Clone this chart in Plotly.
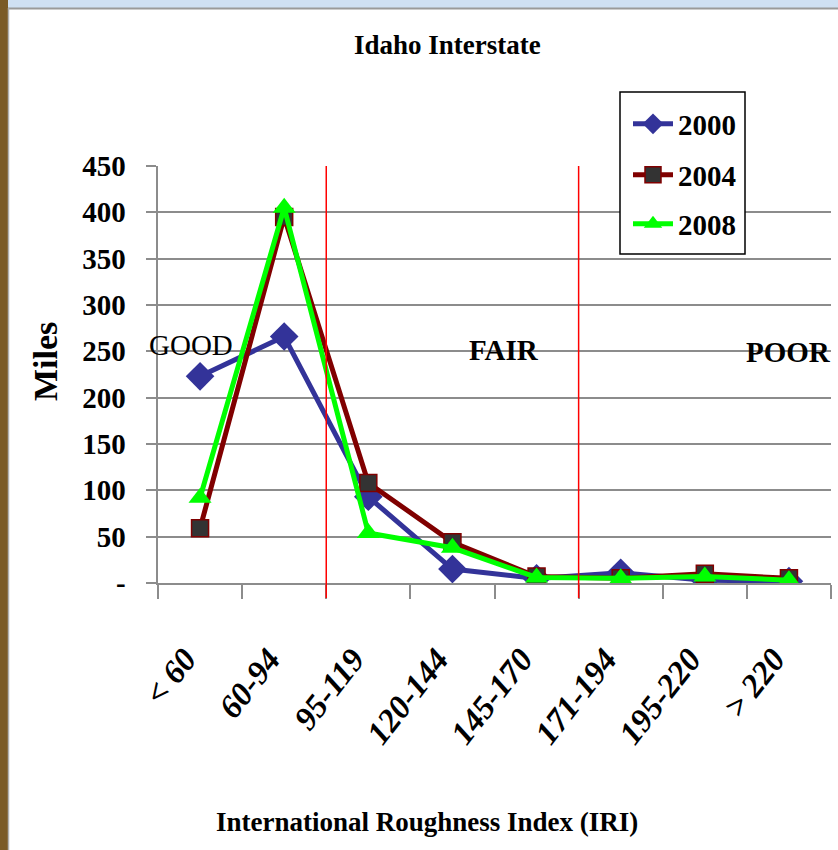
import plotly.graph_objects as go

categories = ["< 60", "60-94", "95-119", "120-144", "145-170", "171-194", "195-220", "> 220"]
miles_2000 = [223, 266, 93, 15, 5, 11, 3, 2]
miles_2004 = [59, 395, 108, 44, 7, 5, 10, 5]
miles_2008 = [92, 405, 54, 38, 6, 5, 7, 3]
y_tickvals = [0, 50, 100, 150, 200, 250, 300, 350, 400, 450]
y_ticktext = ["-", "50", "100", "150", "200", "250", "300", "350", "400", "450"]
zone_labels = ["GOOD", "FAIR", "POOR"]
zone_bounds = [1.5, 4.5]

W, H = 838, 850
L, R, T, B = 158, 831, 166, 583  # plot area in pixels

def px(xp):
    return (xp - L) / (R - L)

def py(yp):
    return (B - yp) / (B - T)

FONT = "Liberation Serif, Times New Roman, serif"
GRID = "#8c8c8c"
NB = "\u00a0"

fig = go.Figure()

fig.add_trace(go.Scatter(
    x=categories, y=miles_2000, name="2000", mode="lines+markers", legend="legend",
    line=dict(color="#333399", width=5),
    marker=dict(symbol="diamond", size=22, color="#333399"),
))
fig.add_trace(go.Scatter(
    x=categories, y=miles_2004, name="2004", mode="lines+markers", legend="legend2",
    line=dict(color="#800000", width=5),
    marker=dict(symbol="square", size=17, color="#333333", line=dict(color="#800000", width=1.5)),
))
fig.add_trace(go.Scatter(
    x=categories, y=miles_2008, name="2008", mode="lines+markers", legend="legend3",
    line=dict(color="#00ff00", width=5),
    marker=dict(symbol="triangle-up", size=20, color="#00ff00"),
))

shapes = []
for b in zone_bounds:
    shapes.append(dict(type="line", xref="x", yref="paper", x0=b, x1=b,
                       y0=py(598), y1=1, line=dict(color="red", width=1.5), layer="above"))
# legend frame
shapes.append(dict(type="rect", xref="paper", yref="paper", x0=px(620), x1=px(745), y0=py(92), y1=py(254),
                   fillcolor="white", line=dict(color="black", width=1.5), layer="above"))
# slide frame artifacts
shapes.append(dict(type="rect", xref="paper", yref="paper", x0=px(0), x1=px(W), y0=py(0), y1=py(8),
                   fillcolor="#cfe0f3", line=dict(width=0), layer="below"))
shapes.append(dict(type="line", xref="paper", yref="paper", x0=px(8), x1=px(W), y0=py(8.5), y1=py(8.5),
                   line=dict(color="#9a9a9a", width=2)))
shapes.append(dict(type="rect", xref="paper", yref="paper", x0=px(0), x1=px(8), y0=py(0), y1=py(H),
                   fillcolor="#7a5a26", line=dict(width=0), layer="below"))
shapes.append(dict(type="line", xref="paper", yref="paper", x0=px(8.5), x1=px(8.5), y0=py(8), y1=py(H),
                   line=dict(color="#b0b0b0", width=1.5)))

annotations = [
    dict(text="<b>Idaho Interstate</b>", xref="paper", yref="paper", x=px(447), y=py(45),
         showarrow=False, font=dict(family=FONT, size=27, color="black"), xanchor="center", yanchor="middle"),
    dict(text="<b>Miles</b>", xref="paper", yref="paper", x=px(45), y=py(362), textangle=-90,
         showarrow=False, font=dict(family=FONT, size=34, color="black"), xanchor="center", yanchor="middle"),
    dict(text="<b>International Roughness Index (IRI)</b>", xref="paper", yref="paper", x=px(427), y=py(822),
         showarrow=False, font=dict(family=FONT, size=27, color="black"), xanchor="center", yanchor="middle"),
    dict(text=zone_labels[0], xref="paper", yref="paper", x=px(191), y=py(345),
         showarrow=False, font=dict(family=FONT, size=29, color="black"), xanchor="center", yanchor="middle"),
    dict(text="<b>" + zone_labels[1] + "</b>", xref="paper", yref="paper", x=px(504), y=py(350),
         showarrow=False, font=dict(family=FONT, size=29, color="black"), xanchor="center", yanchor="middle"),
    dict(text="<b>" + zone_labels[2] + "</b>", xref="paper", yref="paper", x=px(788), y=py(352),
         showarrow=False, font=dict(family=FONT, size=29, color="black"), xanchor="center", yanchor="middle"),
]

legend_font = dict(family=FONT, size=29, color="black", weight="bold")
def leg(yc):
    return dict(x=px(628), y=py(yc), xanchor="left", yanchor="middle",
                bgcolor="rgba(0,0,0,0)", borderwidth=0, font=legend_font, itemwidth=40)

fig.update_layout(
    width=W, height=H,
    margin=dict(l=L, r=W - R, t=T, b=H - B, pad=0),
    paper_bgcolor="white", plot_bgcolor="white",
    showlegend=True,
    legend=leg(124), legend2=leg(175), legend3=leg(224),
    shapes=shapes,
    annotations=annotations,
    xaxis=dict(
        type="category", range=[-0.5, 7.5],
        tickvals=categories, ticktext=[c + NB * 3 for c in categories],
        showgrid=False, showline=True, linecolor=GRID, linewidth=2,
        ticks="outside", tickson="boundaries", ticklen=14, tickwidth=2, tickcolor=GRID,
        tickangle=-52, ticklabelstandoff=22,
        tickfont=dict(family=FONT, size=33, color="black", weight="bold", style="italic"),
    ),
    yaxis=dict(
        range=[0, 450], tickvals=y_tickvals, ticktext=[t + NB * 2 for t in y_ticktext],
        showgrid=True, gridcolor=GRID, gridwidth=2,
        showline=True, linecolor=GRID, linewidth=2, zeroline=False,
        ticks="outside", ticklen=10, tickwidth=2, tickcolor=GRID,
        tickfont=dict(family=FONT, size=29, color="black", weight="bold"),
    ),
)

fig.write_html("out.html", post_script="document.body.style.margin='0px';",
               config={"displayModeBar": False})
